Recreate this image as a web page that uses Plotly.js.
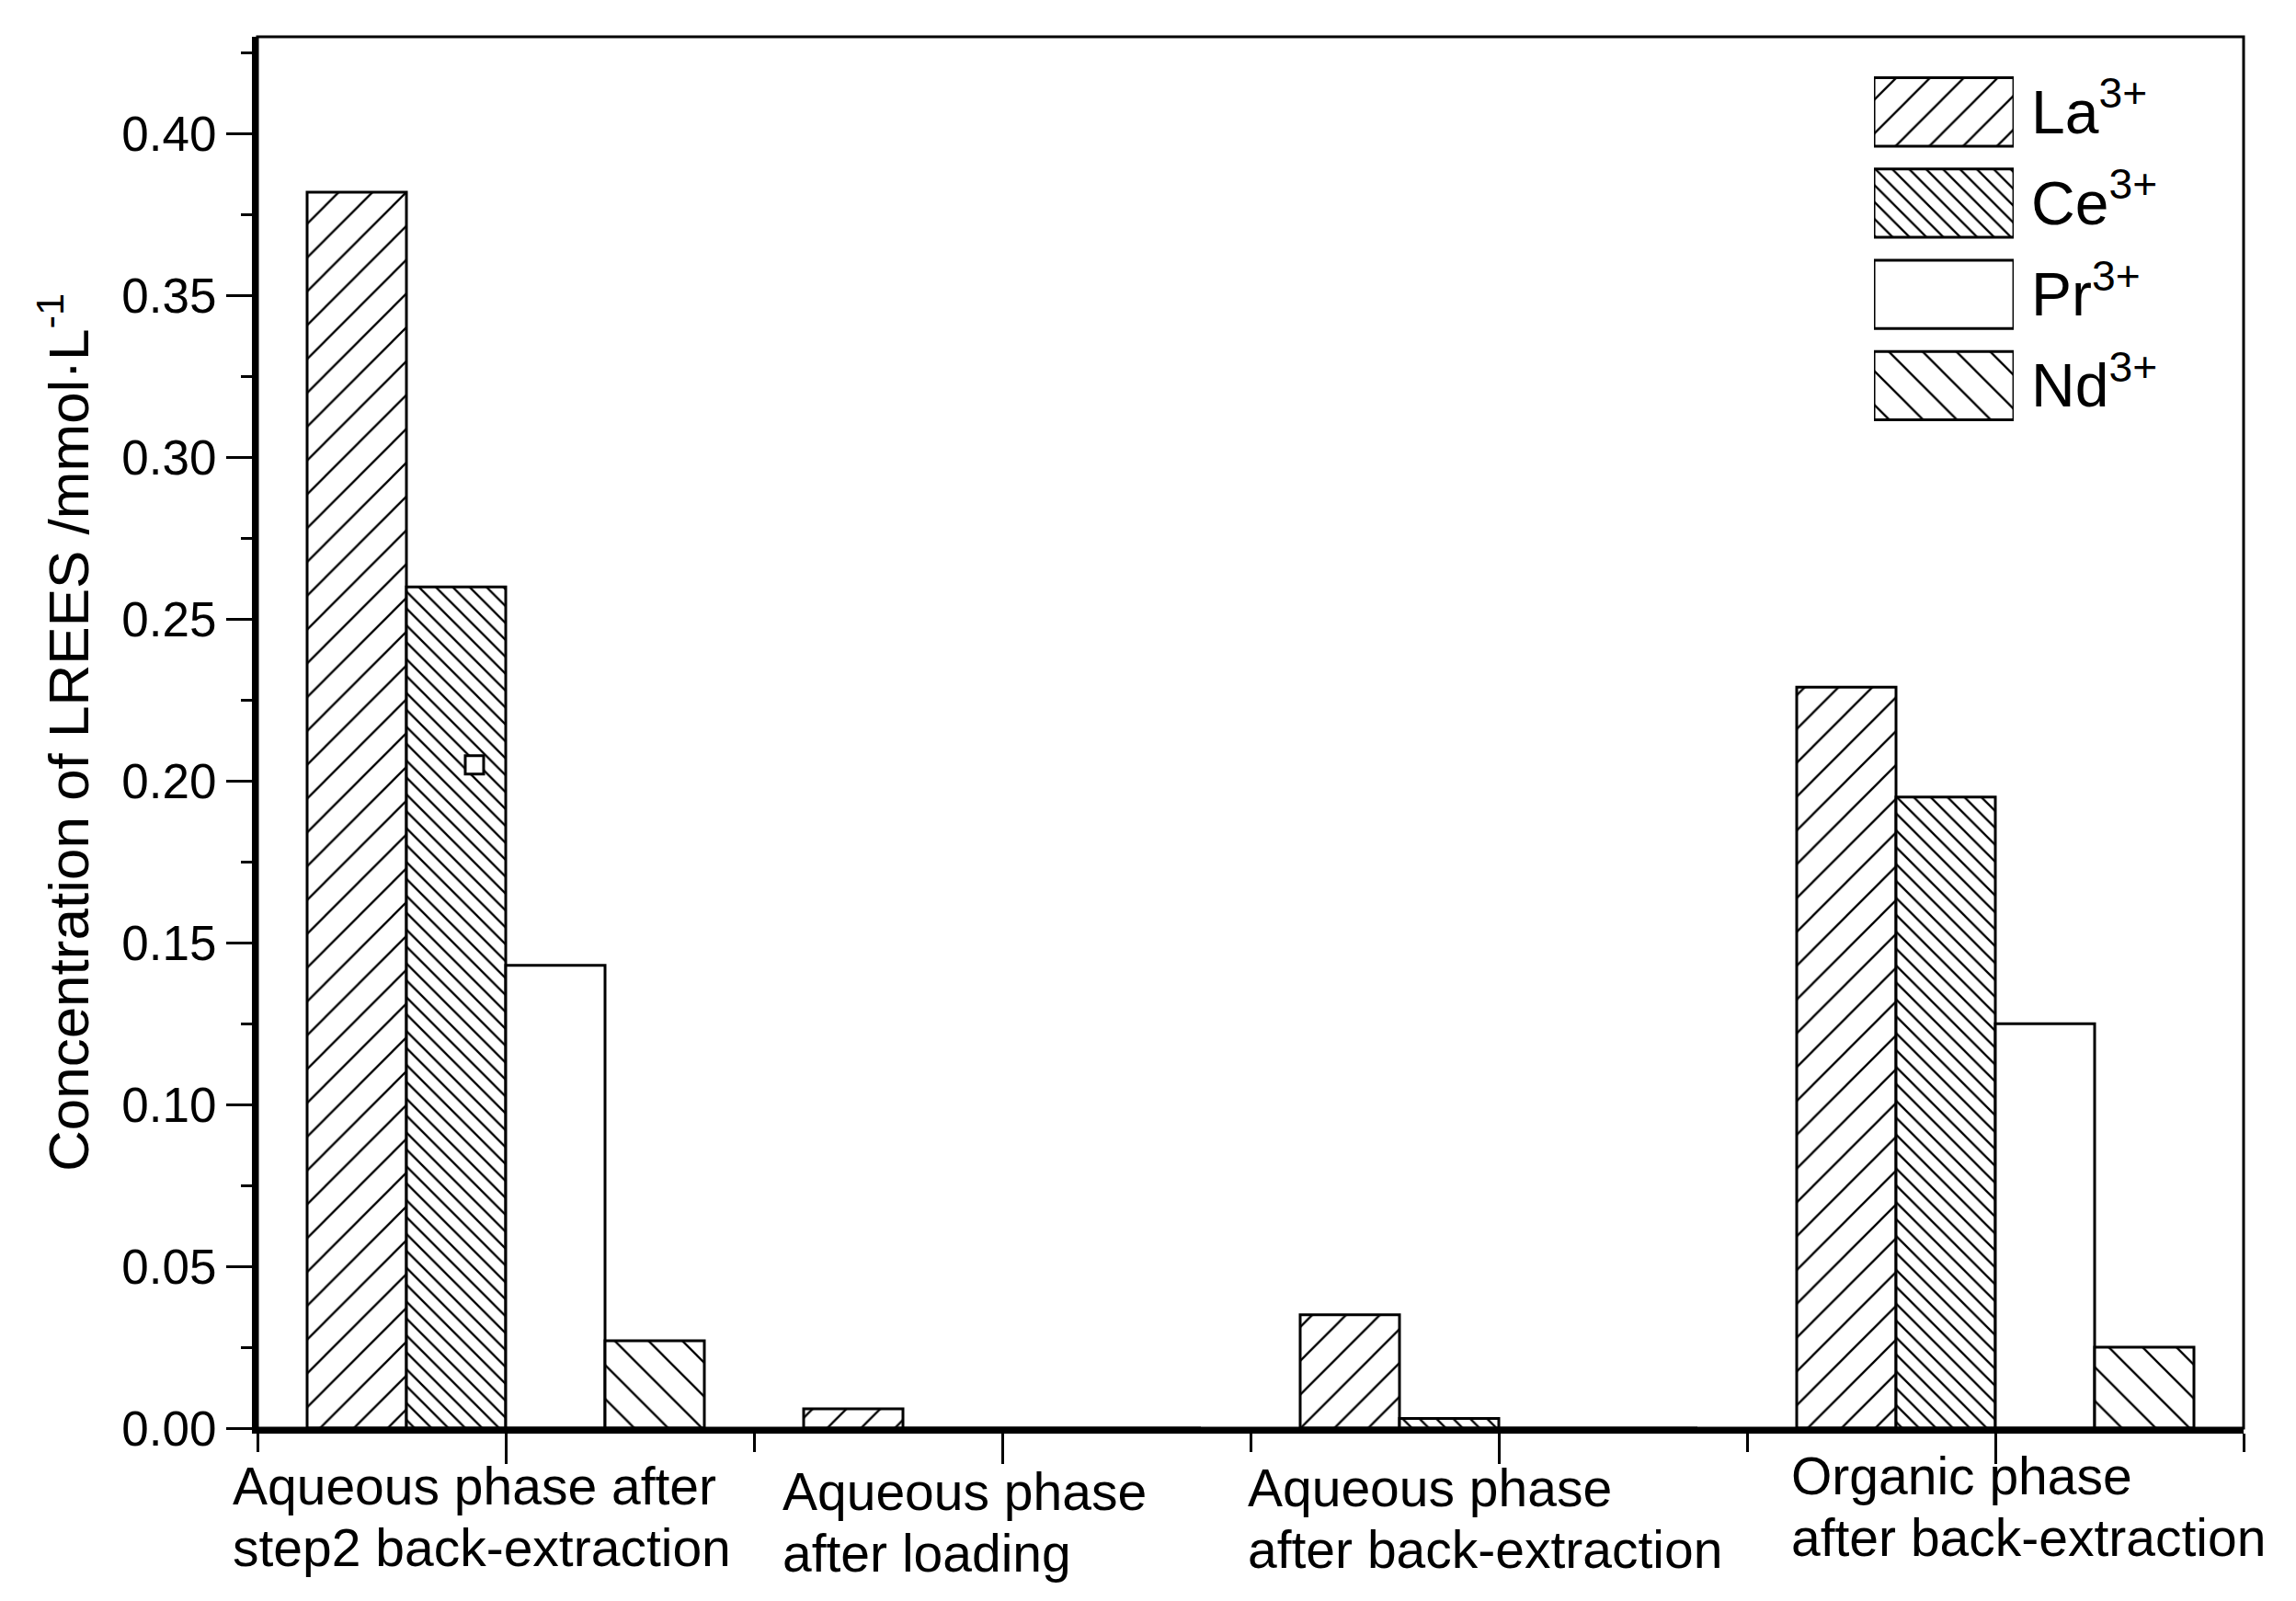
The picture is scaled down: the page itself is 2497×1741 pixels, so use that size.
<!DOCTYPE html>
<html>
<head>
<meta charset="utf-8">
<script src="https://cdn.plot.ly/plotly-3.0.1.min.js"></script>
<style>
  html, body { margin: 0; padding: 0; background: #fff; }
  #chart { width: 2497px; height: 1741px; }
</style>
</head>
<body>
<div id="chart"></div>
<script>
// categories and series
const groups = [
    'Aqueous phase after<br>step2 back-extraction',
    'Aqueous phase<br>after loading',
    'Aqueous phase<br>after back-extraction',
    'Organic phase<br>after back-extraction'
];
const seriesNames = ['La<sup>3+</sup>', 'Ce<sup>3+</sup>', 'Pr<sup>3+</sup>', 'Nd<sup>3+</sup>'];
const la = [0.382, 0.006, 0.035, 0.229];
const ce = [0.260, 0, 0.003, 0.195];
const pr = [0.143, 0, 0, 0.125];
const nd = [0.027, 0, 0, 0.025];
// stray open square that sits inside the first Ce bar
const strayX = [-0.063];
const strayY = [0.205];

const hatches = [
    { shape: '/', size: 26, solidity: 0.09 },
    { shape: '\\', size: 13, solidity: 0.18 },
    { shape: '', size: 13, solidity: 0.2 },
    { shape: '\\', size: 26, solidity: 0.09 }
];

// the x labels in the original are left aligned and a little uneven: [dx, dy] in px
const labelNudge = [[-29, 0], [29, 6], [-5, 2], [46, -11]];

const groupPos = groups.map((g, i) => i);
const boundaries = groupPos.map((i) => i - 0.5).concat([groupPos.length - 0.5]);

const seriesValues = [la, ce, pr, nd];

const bars = seriesValues.map((vals, k) => ({
    type: 'bar',
    name: seriesNames[k],
    x: groupPos,
    y: vals,
    marker: {
        color: 'white',
        line: { color: 'black', width: 3 },
        pattern: {
            shape: hatches[k].shape,
            size: hatches[k].size,
            solidity: hatches[k].solidity,
            fgcolor: 'black',
            fgopacity: 1,
            bgcolor: 'white',
            fillmode: 'overlay'
        }
    },
    hoverinfo: 'skip',
    showlegend: false
}));

const stray = {
    type: 'scatter',
    mode: 'markers',
    x: strayX,
    y: strayY,
    marker: { symbol: 'square', size: 20, color: 'white', line: { color: 'black', width: 3 } },
    hoverinfo: 'skip',
    showlegend: false
};

// big hatched legend swatches, drawn as bars on a small inset axis
const legendSwatches = {
    type: 'bar',
    orientation: 'h',
    xaxis: 'x2',
    yaxis: 'y2',
    y: seriesNames,
    x: seriesNames.map(() => 1),
    width: 0.75,
    cliponaxis: false,
    marker: {
        color: 'white',
        line: { color: 'black', width: 3 },
        pattern: {
            shape: hatches.map((h) => h.shape),
            size: hatches.map((h) => h.size),
            solidity: hatches.map((h) => h.solidity),
            fgcolor: 'black',
            fgopacity: 1,
            bgcolor: 'white',
            fillmode: 'overlay'
        }
    },
    hoverinfo: 'skip',
    showlegend: false
};

// one annotation per label line so the line spacing matches the original
const labelAnnotations = [];
groups.forEach((g, i) => {
    g.split('<br>').forEach((line, j) => {
        labelAnnotations.push({
            xref: 'x',
            yref: 'paper',
            x: i - 0.5,
            y: 0,
            xanchor: 'left',
            yanchor: 'middle',
            xshift: labelNudge[i][0],
            yshift: -63 - 67 * j - labelNudge[i][1],
            showarrow: false,
            text: line,
            font: { size: 57 }
        });
    });
});

const layout = {
    width: 2497,
    height: 1741,
    margin: { l: 280, r: 57, t: 40, b: 188 },
    paper_bgcolor: 'white',
    plot_bgcolor: 'white',
    font: { family: 'Liberation Sans, Arial, sans-serif', color: 'black' },
    barmode: 'group',
    bargap: 0.2,
    bargroupgap: 0,
    showlegend: false,
    xaxis: {
        range: [-0.5, 3.5],
        tickmode: 'array',
        tickvals: groupPos,
        showticklabels: false,
        ticks: 'outside',
        ticklen: 33,
        tickwidth: 3,
        tickcolor: 'black',
        showline: true,
        linewidth: 6,
        linecolor: 'black',
        showgrid: false,
        zeroline: false,
        minor: {
            tickmode: 'array',
            tickvals: boundaries,
            ticks: 'outside',
            ticklen: 20,
            tickwidth: 3,
            tickcolor: 'black',
            showgrid: false
        }
    },
    yaxis: {
        range: [0, 0.43],
        tick0: 0,
        dtick: 0.05,
        tickformat: '.2f',
        ticks: 'outside',
        ticklen: 28,
        tickwidth: 3,
        tickcolor: 'black',
        tickfont: { size: 53 },
        showline: true,
        linewidth: 6,
        linecolor: 'black',
        showgrid: false,
        zeroline: false,
        minor: {
            dtick: 0.025,
            ticks: 'outside',
            ticklen: 12,
            tickwidth: 3,
            tickcolor: 'black',
            showgrid: false
        },
        title: {
            text: 'Concentration of LREES /mmol·L<sup>-1</sup>',
            font: { size: 62 },
            standoff: 18
        }
    },
    xaxis2: {
        domain: [0.8139, 0.8843],
        anchor: 'y2',
        range: [0, 1],
        visible: false
    },
    yaxis2: {
        domain: [0.7165, 0.9788],
        anchor: 'x2',
        type: 'category',
        range: [3.5, -0.5],
        side: 'right',
        showline: false,
        showgrid: false,
        zeroline: false,
        ticks: '',
        ticklabelstandoff: 18,
        tickfont: { size: 66 }
    },
    shapes: [{
        type: 'rect',
        xref: 'paper', yref: 'paper',
        x0: 0, x1: 1, y0: 0, y1: 1,
        line: { color: 'black', width: 3 },
        layer: 'above'
    }],
    annotations: labelAnnotations
};

Plotly.newPlot('chart', bars.concat([stray, legendSwatches]), layout, { staticPlot: true });
</script>
</body>
</html>
